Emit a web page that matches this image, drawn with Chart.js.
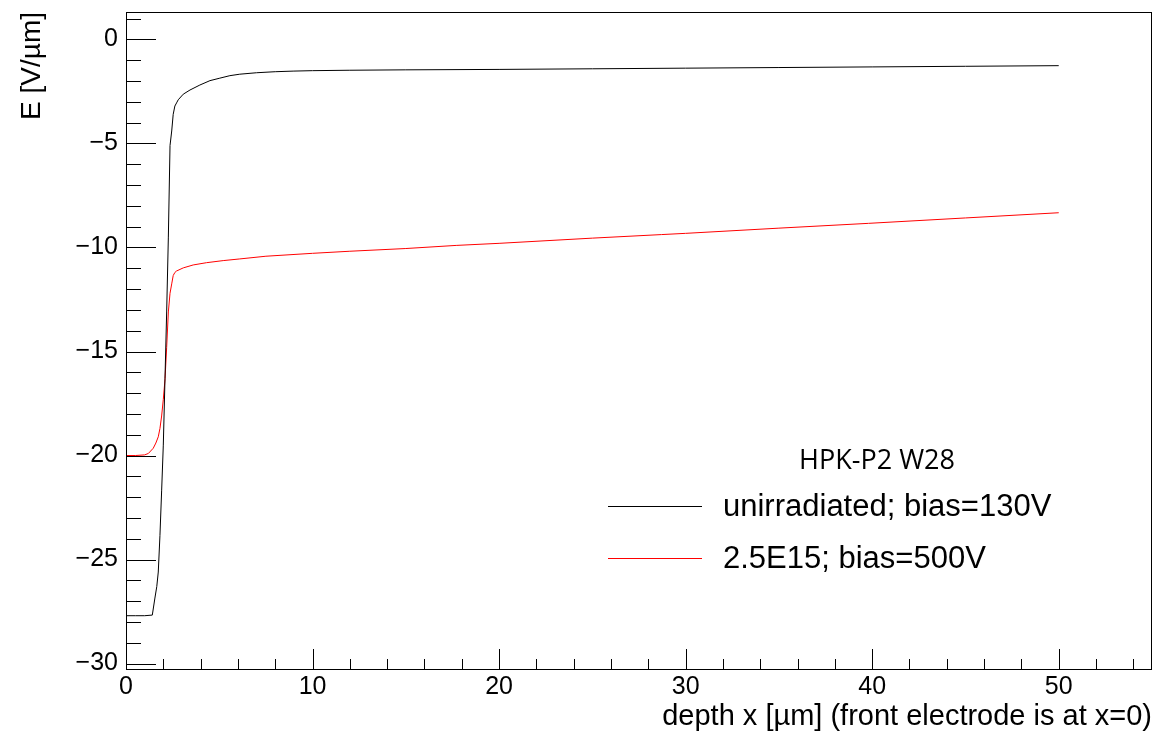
<!DOCTYPE html>
<html>
<head>
<meta charset="utf-8">
<title>E field vs depth</title>
<script src="https://cdn.jsdelivr.net/npm/chart.js@4.4.1/dist/chart.umd.min.js"></script>
<style>
  html, body { margin: 0; padding: 0; background: #fff; }
  canvas { display: block; }
</style>
</head>
<body>
<canvas id="efield" width="1158" height="731"></canvas>
<script>
// unirradiated sensor, bias 130 V
const depthUnirr = [0, 0.5, 1.0, 1.41, 1.55, 1.65, 1.73, 1.82, 1.91, 2.0, 2.09, 2.18, 2.27, 2.36, 2.45, 2.53,
  2.62, 2.71, 2.8, 3.07, 3.43, 3.96, 4.5, 5.03, 5.57, 6.1, 7, 8, 9, 10, 12, 15, 20, 25, 30, 35, 40, 45, 50];
const fieldUnirr = [-27.7, -27.7, -27.7, -27.67, -26.85, -26.3, -25.6, -23.85, -21.7, -19.5, -16.3, -13.1, -9.5, -5.1, -4.4, -3.6,
  -3.2, -3.05, -2.9, -2.63, -2.43, -2.19, -1.98, -1.86, -1.74, -1.67, -1.6, -1.55, -1.52, -1.5, -1.48, -1.46, -1.44, -1.41, -1.38, -1.35, -1.32, -1.29, -1.26];

// irradiated 2.5E15, bias 500 V
const depthIrr = [0, 0.5, 1.0, 1.2, 1.46, 1.6, 1.73, 1.82, 1.91, 2.0, 2.09, 2.18, 2.27, 2.36, 2.45, 2.53, 2.62,
  2.71, 3.07, 3.6, 4.32, 5.21, 6.1, 7.5, 10, 12, 15, 17.7, 20, 25, 28.7, 30, 35, 39.8, 45, 50];
const fieldIrr = [-20.0, -20.0, -19.97, -19.9, -19.65, -19.4, -19.1, -18.7, -18.1, -17.3, -16.35, -14.8, -13.1, -12.2, -11.75, -11.35, -11.2,
  -11.13, -10.98, -10.84, -10.73, -10.63, -10.55, -10.42, -10.28, -10.18, -10.05, -9.9, -9.8, -9.55, -9.38, -9.32, -9.07, -8.84, -8.58, -8.33];

const xTickValues = [0, 10, 20, 30, 40, 50];
const yTickValues = [-30, -25, -20, -15, -10, -5, 0];
const seriesLabels = ["unirradiated; bias=130V", "2.5E15; bias=500V"];
const seriesColors = ["#000000", "#ff0000"];
const legendHeader = "HPK-P2 W28";

const toPoints = (xs, ys) => xs.map((x, i) => ({ x, y: ys[i] }));
const fmt = (v) => (v < 0 ? "\u2212" + Math.abs(v) : String(v));

// ROOT-like frame with inward tick marks, plus the in-pad legend
const framePlugin = {
  id: "frame",
  afterDatasetsDraw(chart) {
    const { ctx, chartArea: a, scales } = chart;
    const x = scales.x;
    const y = scales.y;
    ctx.save();
    ctx.strokeStyle = "#000";
    ctx.lineWidth = 1;
    ctx.beginPath();
    for (let v = Math.ceil(y.min); v <= y.max; v += 1) {
      const py = Math.round(y.getPixelForValue(v)) + 0.5;
      const len = v % 5 === 0 ? 30 : 15;
      ctx.moveTo(a.left, py);
      ctx.lineTo(a.left + len, py);
    }
    for (let v = 0; v <= x.max; v += 2) {
      const px = Math.round(x.getPixelForValue(v)) + 0.5;
      const len = v % 10 === 0 ? 21 : 11;
      ctx.moveTo(px, a.bottom);
      ctx.lineTo(px, a.bottom - len);
    }
    ctx.stroke();
    ctx.strokeRect(a.left + 0.5, a.top + 0.5, a.width - 1, a.height - 1);

    // legend
    ctx.fillStyle = "#000";
    ctx.textBaseline = "middle";
    ctx.textAlign = "center";
    ctx.font = '27px "Open Sans"';
    ctx.fillText(legendHeader, 877, 461);
    ctx.textAlign = "left";
    ctx.font = '31px "Liberation Sans"';
    const rows = [507, 559];
    seriesLabels.forEach((label, i) => {
      ctx.strokeStyle = seriesColors[i];
      ctx.beginPath();
      ctx.moveTo(608, rows[i] - 0.5);
      ctx.lineTo(702, rows[i] - 0.5);
      ctx.stroke();
      ctx.fillText(label, 723, rows[i]);
    });
    ctx.restore();
  },
};

new Chart(document.getElementById("efield"), {
  type: "scatter",
  data: {
    datasets: [
      {
        label: seriesLabels[0],
        data: toPoints(depthUnirr, fieldUnirr),
        showLine: true,
        borderColor: seriesColors[0],
        borderWidth: 1,
        pointRadius: 0,
        tension: 0,
      },
      {
        label: seriesLabels[1],
        data: toPoints(depthIrr, fieldIrr),
        showLine: true,
        borderColor: seriesColors[1],
        borderWidth: 1,
        pointRadius: 0,
        tension: 0,
      },
    ],
  },
  options: {
    responsive: false,
    animation: false,
    devicePixelRatio: 1,
    layout: { padding: { top: 12, right: 6, left: 0, bottom: 0 } },
    plugins: { legend: { display: false }, tooltip: { enabled: false } },
    scales: {
      x: {
        type: "linear",
        min: 0,
        max: 55,
        afterBuildTicks: (s) => { s.ticks = xTickValues.map((value) => ({ value })); },
        afterFit: (s) => {
          s.height = 61;
          s.paddingLeft = 0;
          s.paddingRight = 0;
        },
        grid: { display: false, drawTicks: false },
        border: { display: false },
        ticks: {
          color: "#000",
          padding: 2,
          maxRotation: 0,
          autoSkip: false,
          font: { family: "Liberation Sans", size: 25 },
          callback: fmt,
        },
        title: {
          display: true,
          text: "depth x [\u00b5m] (front electrode is at x=0)",
          align: "end",
          color: "#000",
          padding: { top: 0, bottom: 0 },
          font: { family: "Liberation Sans", size: 29, lineHeight: 1 },
        },
      },
      y: {
        type: "linear",
        min: -30.31,
        max: 1.32,
        afterBuildTicks: (s) => { s.ticks = yTickValues.map((value) => ({ value })); },
        afterFit: (s) => {
          s.width = 126;
          s.paddingTop = 0;
          s.paddingBottom = 0;
        },
        grid: { display: false, drawTicks: false },
        border: { display: false },
        ticks: {
          color: "#000",
          padding: 8,
          autoSkip: false,
          font: { family: "Liberation Sans", size: 25 },
          callback: fmt,
        },
        title: {
          display: true,
          text: "E [V/\u00b5m]",
          align: "end",
          color: "#000",
          padding: { top: 18, bottom: 0 },
          font: { family: "Liberation Sans", size: 28, lineHeight: 1 },
        },
      },
    },
  },
  plugins: [framePlugin],
});
</script>
</body>
</html>
